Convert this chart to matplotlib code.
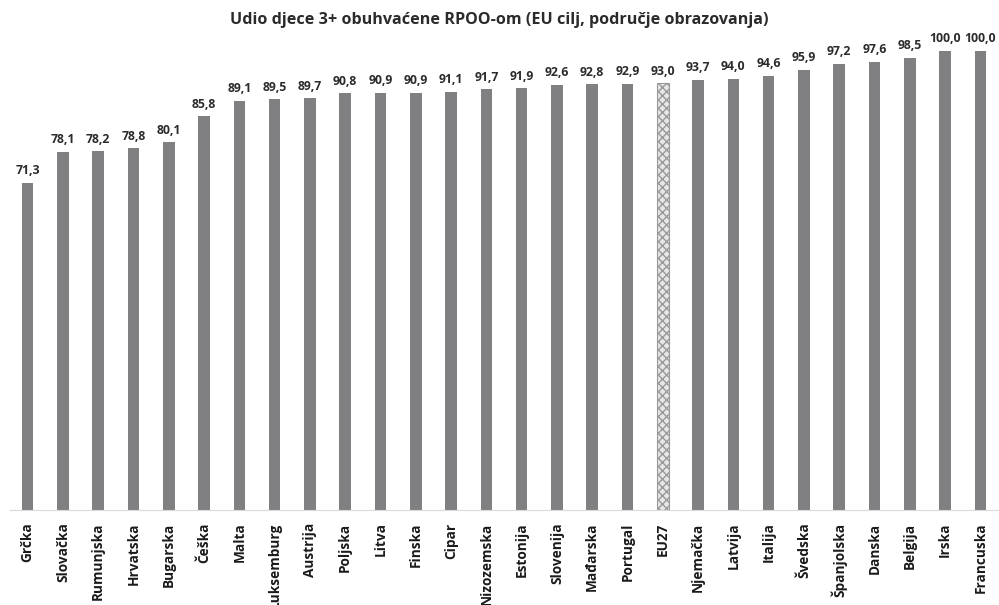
import numpy as np
import matplotlib.pyplot as plt

plt.rcParams["font.family"] = ["Open Sans", "DejaVu Sans"]
plt.rcParams["hatch.color"] = "#9a9a9a"

countries = ["Grčka", "Slovačka", "Rumunjska", "Hrvatska", "Bugarska", "Češka", "Malta",
             "Luksemburg", "Austrija", "Poljska", "Litva", "Finska", "Cipar", "Nizozemska",
             "Estonija", "Slovenija", "Mađarska", "Portugal", "EU27", "Njemačka", "Latvija",
             "Italija", "Švedska", "Španjolska", "Danska", "Belgija", "Irska", "Francuska"]
values = [71.3, 78.1, 78.2, 78.8, 80.1, 85.8, 89.1, 89.5, 89.7, 90.8, 90.9, 90.9, 91.1, 91.7,
          91.9, 92.6, 92.8, 92.9, 93.0, 93.7, 94.0, 94.6, 95.9, 97.2, 97.6, 98.5, 100.0, 100.0]
highlight = "EU27"

fig = plt.figure(figsize=(9.99, 6.05), dpi=100)
ax = fig.add_axes([10 / 999, (605 - 510) / 605, 988 / 999, 470 / 605])

x = np.arange(len(countries))
for xi, name, v in zip(x, countries, values):
    if name == highlight:
        ax.bar(xi, v, width=0.33, color="#e6e6e6", edgecolor="#9a9a9a", hatch="xxxx", lw=0.8)
    else:
        ax.bar(xi, v, width=0.33, color="#808083")
    ax.annotate(f"{v:.1f}".replace(".", ","), xy=(xi, v), xytext=(0, 4),
                textcoords="offset points", ha="center", va="bottom",
                fontsize=8.8, fontweight="bold", color="#2b2b2b")

ax.set_xlim(-0.5, len(countries) - 0.5)
ax.set_ylim(0, 102.4)
ax.set_xticks(x)
ax.set_xticklabels(countries, rotation=90, fontsize=9.8, fontweight="bold", color="#1a1a1a")
ax.tick_params(axis="x", length=0, pad=9)
ax.set_yticks([])
for s in ["top", "right", "left"]:
    ax.spines[s].set_visible(False)
ax.spines["bottom"].set_color("#d9d9d9")

fig.text(0.5, 1 - 20 / 605, "Udio djece 3+ obuhvaćene RPOO-om (EU cilj, područje obrazovanja)",
         ha="center", va="center", fontsize=11.6, fontweight="bold", color="#2b2b2b")

fig.savefig("out.png", dpi=100)
